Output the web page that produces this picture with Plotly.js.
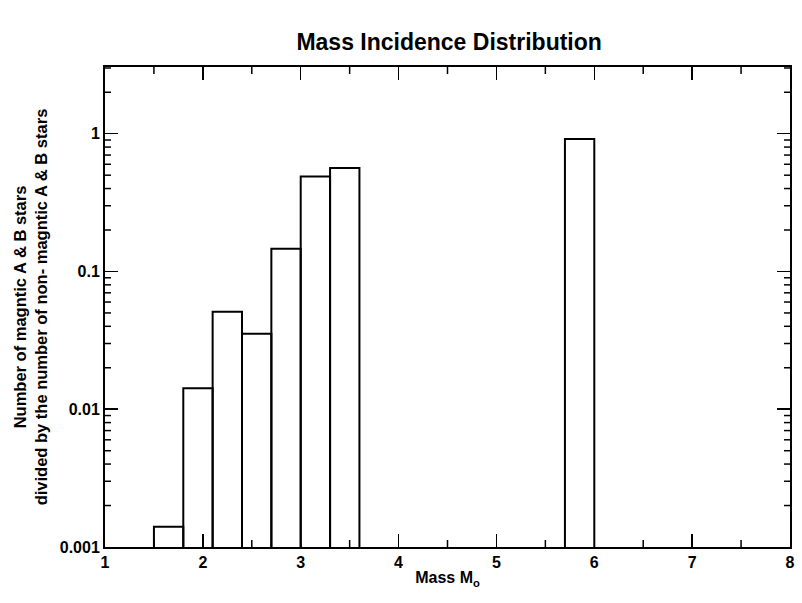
<!DOCTYPE html>
<html>
<head>
<meta charset="utf-8">
<script src="https://cdn.plot.ly/plotly-3.0.1.min.js"></script>
<style>html,body{margin:0;padding:0;background:#fff;}#chart{width:802px;height:603px;}</style>
</head>
<body>
<div id="chart"></div>
<script>
// Bin left edges (solar masses), bin width 0.3
const binStart = [1.5, 1.8, 2.1, 2.4, 2.7, 3.0, 3.3, 5.7];
const ratio = [0.0014, 0.0142, 0.051, 0.0353, 0.146, 0.49, 0.563, 0.915];
const binWidth = 0.3;
const yTickVals = [0.001, 0.01, 0.1, 1];
const yTickText = ['0.001', '0.01', '0.1', '1'];
const xMinorTicks = [1.5, 2.5, 3.5, 4.5, 5.5, 6.5, 7.5];
const yMinorTicks = [];
[0.001, 0.01, 0.1, 1].forEach(d => { for (let k = 2; k <= 9; k++) { if (d * k <= 3.05) yMinorTicks.push(d * k); } });

const W = 802, H = 603;
const M = {l: 105, r: 12, t: 67, b: 56};
const xRange = [1, 8];
const yRange = [-3, Math.log10(3.05)];

const font = {family: 'Liberation Sans, Arial, sans-serif', color: '#000'};
const boldFont = (size) => Object.assign({}, font, {size: size, weight: 'bold'});

const trace = {
  type: 'bar', x: binStart, y: ratio,
  width: binStart.map(() => binWidth), offset: 0,
  marker: {color: 'rgba(255,255,255,0)', line: {color: '#000', width: 2}},
  hoverinfo: 'x+y'
};

// minor tick marks (axis decoration), lengths given in pixels converted to axis units
const xPerPx = (xRange[1] - xRange[0]) / (W - M.l - M.r);
const decPerPx = (yRange[1] - yRange[0]) / (H - M.t - M.b);
const yLo = Math.pow(10, yRange[0]), yHi = Math.pow(10, yRange[1]);
const tx = [], ty = [];
xMinorTicks.forEach(v => {
  tx.push(v, v, null, v, v, null);
  ty.push(yLo, yLo * Math.pow(10, 7 * decPerPx), null, yHi, yHi / Math.pow(10, 7 * decPerPx), null);
});
yMinorTicks.forEach(v => {
  tx.push(xRange[0], xRange[0] + 6 * xPerPx, null, xRange[1], xRange[1] - 6 * xPerPx, null);
  ty.push(v, v, null, v, v, null);
});
const minorTicks = {
  type: 'scatter', mode: 'lines', x: tx, y: ty, connectgaps: false,
  line: {color: '#000', width: 1.5}, hoverinfo: 'skip', showlegend: false
};

const layout = {
  width: W, height: H, margin: M,
  paper_bgcolor: '#fff', plot_bgcolor: '#fff',
  showlegend: false, bargap: 0,
  title: {text: 'Mass Incidence Distribution', font: boldFont(23), x: 0.56, xanchor: 'center', y: 0.93, yanchor: 'middle'},
  xaxis: {
    range: xRange, tickmode: 'linear', tick0: 1, dtick: 1,
    ticks: 'inside', ticklen: 13, tickwidth: 1.5, tickcolor: '#000',
    showline: true, linecolor: '#000', linewidth: 2, mirror: 'ticks',
    showgrid: false, zeroline: false, tickfont: boldFont(16),
    title: {text: 'Mass M<sub>o</sub>', font: boldFont(16), standoff: 2}
  },
  yaxis: {
    type: 'log', range: yRange,
    tickmode: 'array', tickvals: yTickVals, ticktext: yTickText,
    ticks: 'inside', ticklen: 13, tickwidth: 1.5, tickcolor: '#000',
    showline: true, linecolor: '#000', linewidth: 2, mirror: 'ticks',
    showgrid: false, zeroline: false, tickfont: boldFont(16),
    title: {text: 'Number of magntic A &amp; B stars<br>divided by the number of non- magntic A &amp; B stars', font: boldFont(16.5), standoff: 8}
  }
};

Plotly.newPlot('chart', [trace, minorTicks], layout, {displayModeBar: false, staticPlot: true});
</script>
</body>
</html>
